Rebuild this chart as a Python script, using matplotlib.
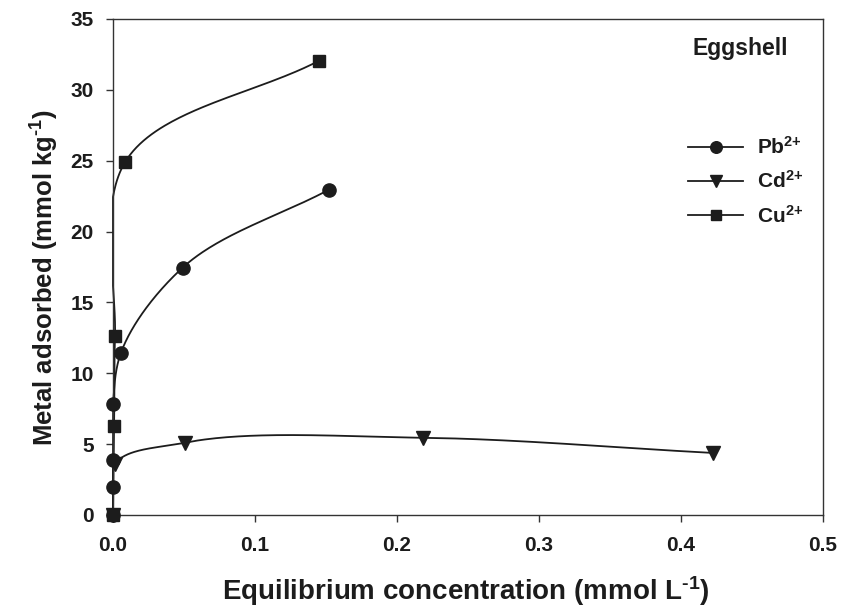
import numpy as np
import matplotlib
matplotlib.use("Agg")
import matplotlib.pyplot as plt

fam = "Liberation Sans"
plt.rcParams['font.family'] = [fam, 'DejaVu Sans']
plt.rcParams['font.weight'] = 'bold'
plt.rcParams['mathtext.fontset'] = 'custom'
plt.rcParams['mathtext.rm'] = fam + ':bold'
plt.rcParams['mathtext.it'] = fam + ':bold'
plt.rcParams['mathtext.bf'] = fam + ':bold'

# ---- data ----
pb_x = [0.0, 0.0, 0.0, 0.0, 0.0056, 0.049, 0.152]
pb_y = [0.0, 2.0, 3.85, 7.85, 11.45, 17.45, 22.95]
cd_x = [0.0, 0.0014, 0.0507, 0.2183, 0.4225]
cd_y = [0.0, 3.6, 5.1, 5.45, 4.38]
cu_x = [0.0, 0.0008, 0.0014, 0.0085, 0.145]
cu_y = [0.0, 6.3, 12.6, 24.9, 32.05]
labels = [r'Pb$^{2{+}}$', r'Cd$^{2{+}}$', r'Cu$^{2{+}}$']
x_ticks = [0.0, 0.1, 0.2, 0.3, 0.4, 0.5]
x_ticklabels = ['0.0', '0.1', '0.2', '0.3', '0.4', '0.5']
y_ticks = [0, 5, 10, 15, 20, 25, 30, 35]

INK = '#1c1c1c'

fig = plt.figure(figsize=(8.44, 6.08), dpi=100)
ax = fig.add_axes([113/844, 1-515/608, 710/844, 496/608])
ax.set_xlim(0, 0.5)
ax.set_ylim(0, 35)


def catmull(xs, ys, n=80, alpha=0.75):
    pts = ax.transData.transform(np.column_stack([xs, ys]))
    keep = [0]
    for i in range(1, len(pts)):
        if np.hypot(*(pts[i] - pts[keep[-1]])) > 1e-6:
            keep.append(i)
    P = pts[keep]
    P = np.vstack([2*P[0]-P[1], P, 2*P[-1]-P[-2]])
    out = []
    for i in range(1, len(P)-2):
        p0, p1, p2, p3 = P[i-1], P[i], P[i+1], P[i+2]
        t0 = 0.0
        t1 = t0 + max(np.hypot(*(p1-p0)), 1e-6)**alpha
        t2 = t1 + max(np.hypot(*(p2-p1)), 1e-6)**alpha
        t3 = t2 + max(np.hypot(*(p3-p2)), 1e-6)**alpha
        t = np.linspace(t1, t2, n)[:, None]
        A1 = (t1-t)/(t1-t0)*p0 + (t-t0)/(t1-t0)*p1
        A2 = (t2-t)/(t2-t1)*p1 + (t-t1)/(t2-t1)*p2
        A3 = (t3-t)/(t3-t2)*p2 + (t-t2)/(t3-t2)*p3
        B1 = (t2-t)/(t2-t0)*A1 + (t-t0)/(t2-t0)*A2
        B2 = (t3-t)/(t3-t1)*A2 + (t-t1)/(t3-t1)*A3
        C = (t2-t)/(t2-t1)*B1 + (t-t1)/(t2-t1)*B2
        out.append(C)
    C = np.vstack(out)
    d = ax.transData.inverted().transform(C)
    return np.maximum(d[:, 0], 0.0), d[:, 1]

series = [(pb_x, pb_y, 'o', 9.5), (cd_x, cd_y, 'v', 10), (cu_x, cu_y, 's', 8.5)]
handles = []
for (xs, ys, m, ms), lab in zip(series, labels):
    sx, sy = catmull(xs, ys)
    ax.plot(sx, sy, color=INK, lw=1.3, clip_on=False, zorder=2)
    ax.plot(xs, ys, linestyle='none', marker=m, ms=ms, color=INK, clip_on=False, zorder=3)
    h, = ax.plot([], [], color=INK, lw=1.3, marker=m, ms=ms*0.88, label=lab)
    handles.append(h)

ax.set_xticks(x_ticks)
ax.set_xticklabels(x_ticklabels)
ax.set_yticks(y_ticks)
ax.tick_params(axis='both', direction='out', length=5, width=1, color='#333333',
               labelsize=15, labelcolor=INK, top=False, right=False)
ax.tick_params(axis='x', pad=10)
ax.tick_params(axis='y', pad=9)
for s in ax.spines.values():
    s.set_linewidth(1.0)
    s.set_color('#333333')

ax.set_xlabel(r'Equilibrium concentration (mmol L$^{\text{-}1}$)', fontsize=20, fontweight='bold',
              color=INK, va='baseline')
ax.set_ylabel(r'Metal adsorbed (mmol kg$^{\text{-}1}$)', fontsize=18.5, fontweight='bold', color=INK)
ax.xaxis.set_label_coords(0.497, (515-600)/496)
ax.yaxis.set_label_coords((61-113)/710, 0.478)

ax.text((693-113)/710, (515-48)/496, 'Eggshell', transform=ax.transAxes, fontsize=16.5,
        fontweight='bold', color=INK, va='center', ha='left')

leg = ax.legend(handles=handles, loc='upper left', bbox_to_anchor=((688-113)/710, (515-136)/496),
                frameon=False, fontsize=15, handlelength=2.64, handletextpad=0.67,
                labelspacing=0.6, borderaxespad=0, borderpad=0)
for t in leg.get_texts():
    t.set_color(INK)

fig.savefig('out.png', dpi=100)
